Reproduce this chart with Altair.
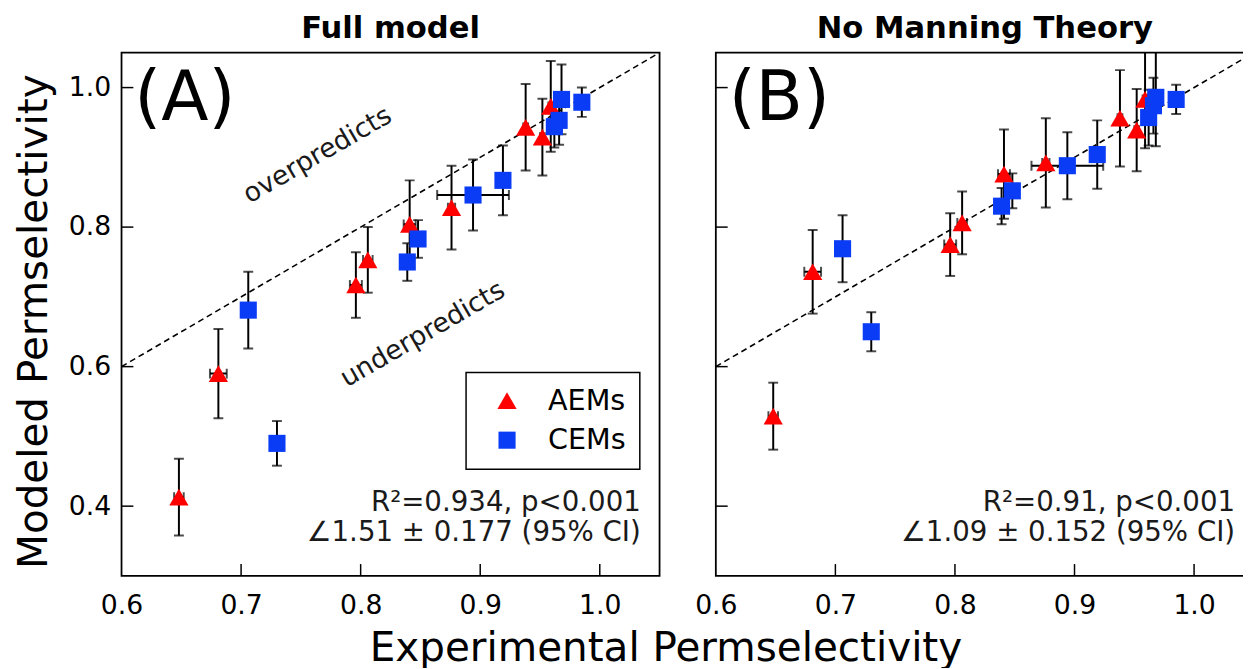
import altair as alt
import pandas as pd

# ---------------- data ----------------
groups = ["AEMs", "CEMs"]

aem_x = [0.648, 0.681, 0.796, 0.806, 0.841, 0.876, 0.938, 0.952, 0.959]
aem_xerr = [0.004, 0.007, 0.005, 0.004, 0.005, 0.003, 0.002, 0.002, 0.002]
aem_y_full = [0.413, 0.590, 0.717, 0.753, 0.804, 0.828, 0.943, 0.929, 0.973]
aem_yerr_full = [0.055, 0.064, 0.047, 0.047, 0.063, 0.060, 0.062, 0.055, 0.065]
aem_y_nomanning = [0.529, 0.736, 0.775, 0.806, 0.876, 0.892, 0.956, 0.939, 0.983]
aem_yerr_nomanning = [0.048, 0.060, 0.045, 0.045, 0.064, 0.064, 0.069, 0.059, 0.070]

cem_x = [0.706, 0.730, 0.839, 0.848, 0.894, 0.919, 0.962, 0.966, 0.968, 0.985]
cem_xerr = [0.002, 0.004, 0.002, 0.002, 0.030, 0.002, 0.002, 0.002, 0.002, 0.003]
cem_y_full = [0.681, 0.490, 0.750, 0.783, 0.846, 0.867, 0.944, 0.953, 0.983, 0.979]
cem_yerr_full = [0.055, 0.032, 0.027, 0.027, 0.051, 0.050, 0.030, 0.035, 0.050, 0.021]
cem_y_nomanning = [0.769, 0.650, 0.830, 0.852, 0.888, 0.904, 0.957, 0.974, 0.986, 0.983]
cem_yerr_nomanning = [0.048, 0.028, 0.026, 0.025, 0.048, 0.049, 0.040, 0.040, 0.070, 0.021]

x_domain = [0.6, 1.05]
y_domain = [0.3, 1.05]
diag = [0.6, 1.05]
x_ticks = [0.6, 0.7, 0.8, 0.9, 1.0]
y_ticks = [0.4, 0.6, 0.8, 1.0]
x_inner_ticks = [0.7, 0.8, 0.9, 1.0]
y_inner_ticks = [0.4, 0.6, 0.8, 1.0]

titles = ["Full model", "No Manning Theory"]
panel_labels = ["(A)", "(B)"]
stats_full = ["R\u00b2=0.934, p<0.001", "\u22201.51 \u00b1 0.177 (95% CI)"]
stats_nomanning = ["R\u00b2=0.91, p<0.001", "\u22201.09 \u00b1 0.152 (95% CI)"]
annot_text = ["overpredicts", "underpredicts"]
annot_x = [0.764, 0.852]
annot_y = [0.903, 0.646]

x_title = "Experimental Permselectivity"
y_title = "Modeled Permselectivity"

RED = "#ff0000"
BLUE = "#0a3cf5"
FONT = "DejaVu Sans"
W, H = 545, 530


def make_df(ya, yea, yc, yec):
    rows = []
    for x, xe, y, ye in zip(aem_x, aem_xerr, ya, yea):
        rows.append(dict(type="AEMs", x=x, xlo=x - xe, xhi=x + xe, y=y, ylo=y - ye, yhi=y + ye))
    for x, xe, y, ye in zip(cem_x, cem_xerr, yc, yec):
        rows.append(dict(type="CEMs", x=x, xlo=x - xe, xhi=x + xe, y=y, ylo=y - ye, yhi=y + ye))
    return pd.DataFrame(rows)


def panel(df, title, label, stats, first):
    xs = alt.Scale(domain=x_domain, nice=False, zero=False)
    ys = alt.Scale(domain=y_domain, nice=False, zero=False)

    x_axis = alt.Axis(values=x_ticks, format=".1f", labelPadding=17, labelFlush=False)
    if first:
        x_axis = alt.Axis(values=x_ticks, format=".1f", labelPadding=17, labelFlush=False, title=x_title,
                          titleX=551, titleY=86, titleBaseline="alphabetic",
                          titleFontSize=41, titleFontWeight="normal", titleAlign="center")
        y_axis = alt.Axis(values=y_ticks, format=".1f", labelPadding=11, labelFlush=False, title=y_title,
                          titleX=-76, titleY=272, titleBaseline="alphabetic",
                          titleFontSize=41, titleFontWeight="normal", titleAlign="center",
                          titleAngle=270)
    else:
        y_axis = alt.Axis(values=y_ticks, labels=False)

    X = lambda f: alt.X(f, type="quantitative", scale=xs, axis=x_axis, title=x_title if first else None)
    Y = lambda f: alt.Y(f, type="quantitative", scale=ys, axis=y_axis, title=y_title if first else None)

    base = alt.Chart(df)

    diag_df = pd.DataFrame({"v": diag})
    line = alt.Chart(diag_df).mark_line(color="black", strokeDash=[6, 4], strokeWidth=1.6, clip=True).encode(
        x=X("v"), y=Y("v"))

    xt = alt.Chart(pd.DataFrame({"t": x_inner_ticks})).mark_rule(color="black", strokeWidth=1.5).encode(
        x=X("t"), y=alt.value(H), y2=alt.value(H - 12))
    yt = alt.Chart(pd.DataFrame({"t": y_inner_ticks})).mark_rule(color="black", strokeWidth=1.5).encode(
        y=Y("t"), x=alt.value(0), x2=alt.value(12))

    vbar = base.mark_rule(color="black", strokeWidth=2, clip=True).encode(x=X("x"), y=Y("ylo"), y2="yhi")
    vcap_lo = base.mark_tick(orient="horizontal", color="black", size=10, thickness=2, clip=True).encode(
        x=X("x"), y=Y("ylo"))
    vcap_hi = base.mark_tick(orient="horizontal", color="black", size=10, thickness=2, clip=True).encode(
        x=X("x"), y=Y("yhi"))
    hbar = base.mark_rule(color="black", strokeWidth=2, clip=True).encode(x=X("xlo"), x2="xhi", y=Y("y"))
    hcap_lo = base.mark_tick(orient="vertical", color="black", size=10, thickness=2, clip=True).encode(
        x=X("xlo"), y=Y("y"))
    hcap_hi = base.mark_tick(orient="vertical", color="black", size=10, thickness=2, clip=True).encode(
        x=X("xhi"), y=Y("y"))

    if first:
        leg = alt.Legend(title=None, orient="none", legendX=349, legendY=324, strokeColor="black",
                         padding=14, labelFontSize=29, labelFont=FONT, labelColor="black",
                         symbolSize=440, symbolOffset=13, labelOffset=27, rowPadding=10,
                         symbolStrokeWidth=0, cornerRadius=0)
    else:
        leg = None
    color = alt.Color("type:N", scale=alt.Scale(domain=groups, range=[RED, BLUE]), legend=leg, title=None)
    shape = alt.Shape("type:N", scale=alt.Scale(domain=groups, range=["triangle-up", "square"]), legend=leg,
                      title=None)
    size = alt.Size("type:N", scale=alt.Scale(domain=groups, range=[380, 300]), legend=None)
    pts = base.mark_point(filled=True, opacity=1).encode(x=X("x"), y=Y("y"), color=color, shape=shape, size=size)

    lab = alt.Chart(pd.DataFrame({"t": [label]})).mark_text(
        align="left", baseline="alphabetic", fontSize=70, font=FONT, color="black").encode(
        text="t:N", x=alt.value(13), y=alt.value(68))

    s1 = alt.Chart(pd.DataFrame({"t": [stats[0]]})).mark_text(
        align="right", baseline="alphabetic", fontSize=28, font=FONT, color="#1a1a1a").encode(
        text="t:N", x=alt.value(526), y=alt.value(464))
    s2 = alt.Chart(pd.DataFrame({"t": [stats[1]]})).mark_text(
        align="right", baseline="alphabetic", fontSize=28, font=FONT, color="#1a1a1a").encode(
        text="t:N", x=alt.value(526), y=alt.value(495))

    layers = [line, xt, yt, vbar, vcap_lo, vcap_hi, hbar, hcap_lo, hcap_hi, pts, lab, s1, s2]
    if first:
        ann = alt.Chart(pd.DataFrame({"t": annot_text, "x": annot_x, "y": annot_y})).mark_text(
            fontSize=27, font=FONT, color="#1a1a1a", angle=330, align="center", baseline="middle").encode(
            text="t:N", x=X("x"), y=Y("y"))
        layers.append(ann)

    return alt.layer(*layers).properties(
        width=W, height=H,
        title=alt.TitleParams(title, fontSize=31, fontWeight="bold", font=FONT, anchor="middle",
                              baseline="alphabetic", offset=-16, color="black"))


pa = panel(make_df(aem_y_full, aem_yerr_full, cem_y_full, cem_yerr_full), titles[0], panel_labels[0],
           stats_full, True)
pb = panel(make_df(aem_y_nomanning, aem_yerr_nomanning, cem_y_nomanning, cem_yerr_nomanning), titles[1],
           panel_labels[1], stats_nomanning, False)

chart = alt.hconcat(pa, pb, spacing=57, bounds="flush").resolve_scale(
    x="independent", y="independent", color="independent", shape="independent", size="independent"
).resolve_legend(color="independent", shape="independent").properties(
    padding={"left": 5, "top": 0, "right": -12, "bottom": -6}
).configure_view(stroke="black", strokeWidth=1.8).configure_axis(
    grid=False, ticks=False, tickSize=0, domain=False, labelFont=FONT, labelFontSize=27,
    labelColor="black", titleFont=FONT, titleColor="black"
).configure_legend(strokeWidth=1.5)

chart.save("out.html", embed_options={"renderer": "svg", "actions": False})
